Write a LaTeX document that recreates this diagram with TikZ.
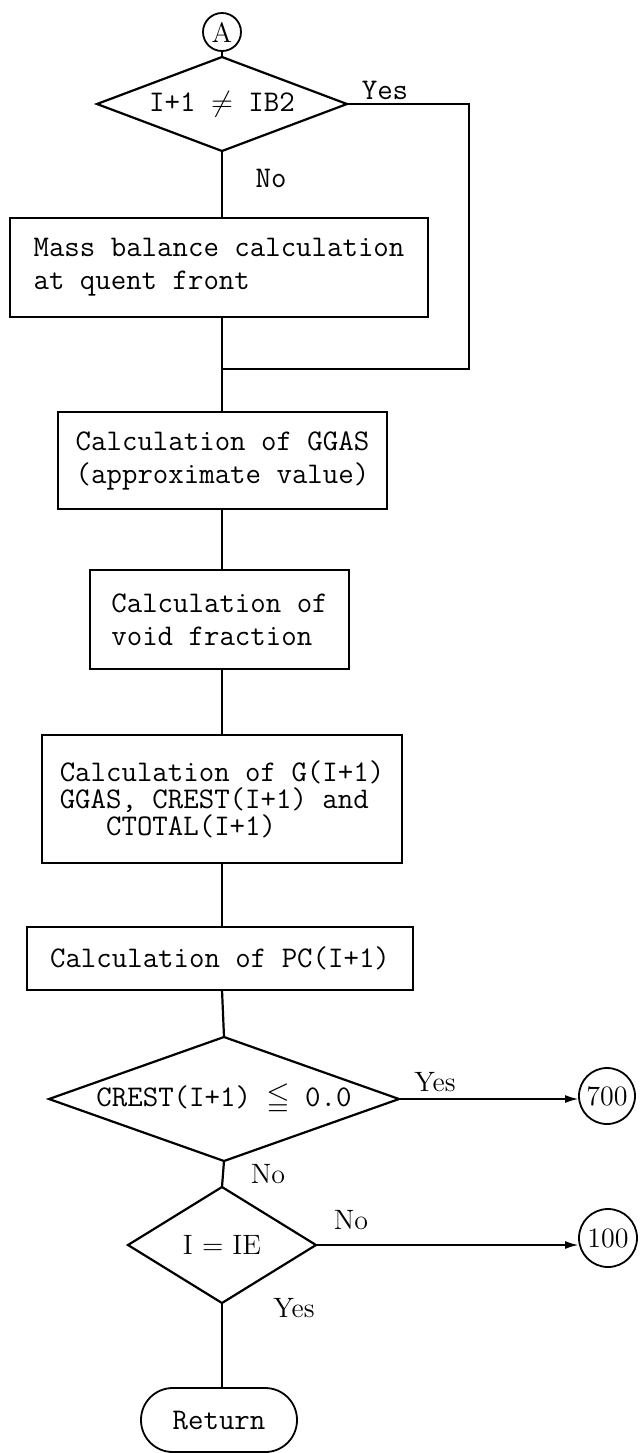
\documentclass[tikz,border=0pt]{standalone}
\usepackage{amssymb}
\usepackage{fontspec}
\usetikzlibrary{shapes.geometric,arrows.meta}

\begin{document}
\begin{tikzpicture}[x=0.5pt,y=-0.5pt,
  every node/.style={inner sep=0pt, outer sep=0pt},
  tt/.style={font=\fontsize{15}{16.5}\selectfont\ttfamily},
  rm/.style={font=\fontsize{14}{16}\selectfont\rmfamily},
  flow/.style={line width=1.1pt},
  procbox/.style={draw, line width=0.85pt, tt, align=left},
  decision/.style={draw, diamond, line width=1.1pt},
  connector/.style={draw, circle, line width=0.9pt},
  terminal/.style={draw, rectangle, rounded corners=15.9pt, line width=0.9pt,
                   minimum width=78pt, minimum height=32pt, tt},
  arrowtip/.style={-{Latex[length=7pt,width=4pt]}}
]
\useasboundingbox (0,0) rectangle (641,1453);

% main axis of the chart
\coordinate (ax) at (222,0);

% entry connector and first decision
\node[connector, minimum size=19pt, rm] (A) at (222,32) {A};
\node[decision, shape aspect=2.66, minimum width=125pt, minimum height=47pt, tt]
  (d1) at (222,104) {I+1 $\mathord{\neq}$ IB2};
\node[tt] (lyes1) at (385,90) {Yes};
\node[tt] (lno1) at (271,178) {No};

% processing boxes
\node[procbox, minimum width=209pt, minimum height=49.5pt] (b1) at (219,267.5)
  {Mass balance calculation\\at quent front};
\node[procbox, minimum width=164.5pt, minimum height=48.5pt] (b2) at (222.5,460.5)
  {Calculation of GGAS\\(approximate value)};
\node[procbox, minimum width=129.5pt, minimum height=49.5pt] (b3) at (219.5,619.5)
  {Calculation of\\void fraction};
\node[procbox, minimum width=180pt, minimum height=64pt,
      font=\fontsize{15}{13.5}\selectfont\ttfamily] (b4) at (222,799)
  {Calculation of G(I+1)\\GGAS, CREST(I+1) and\\\phantom{GGA}CTOTAL(I+1)};
\node[procbox, minimum width=193pt, minimum height=31.5pt] (b5) at (220,958.5)
  {Calculation of PC(I+1)};

% lower decisions
\node[decision, shape aspect=2.8, minimum width=175pt, minimum height=62pt, tt]
  (d2) at (224,1099) {CREST(I+1) $\mathord{\leqq}$ 0.0};
\node[rm] (lyes2) at (435,1082) {Yes};
\node[rm] (lno2) at (268,1174) {No};

\node[decision, shape aspect=1.62, minimum width=94pt, minimum height=58pt, rm]
  (d3) at (222,1245) {I = IE};
\node[rm] (lno3) at (351,1220) {No};
\node[rm] (lyes3) at (294,1308) {Yes};

% off-page connectors and terminal
\node[connector, minimum size=28pt, rm] (c700) at (607,1096) {700};
\node[connector, minimum size=29pt, rm] (c100) at (608,1238) {100};
\node[terminal] (ret) at (219,1420) {Return};

% bypass of the mass balance step
\coordinate (jr) at (469,369);
\coordinate (jn) at (222,369);

% connectors
\draw[flow] (A) -- (d1);
\draw[flow] (d1.south) -- (d1.south |- b1.north);
\draw[flow] (d1.east) -| (jr) -- (jn);
\draw[flow] (ax |- b1.south) -- (ax |- b2.north);
\draw[flow] (ax |- b2.south) -- (ax |- b3.north);
\draw[flow] (ax |- b3.south) -- (ax |- b4.north);
\draw[flow] (ax |- b4.south) -- (ax |- b5.north);
\draw[flow] (ax |- b5.south) -- (d2.north);
\draw[flow] (d2.south) -- (d3.north);
\draw[flow] (d3.south) -- (d3.south |- ret.north);
\draw[flow, arrowtip] (d2.east) -- (d2.east -| c700.west);
\draw[flow, arrowtip] (d3.east) -- (d3.east -| c100.west);
\end{tikzpicture}
\end{document}
